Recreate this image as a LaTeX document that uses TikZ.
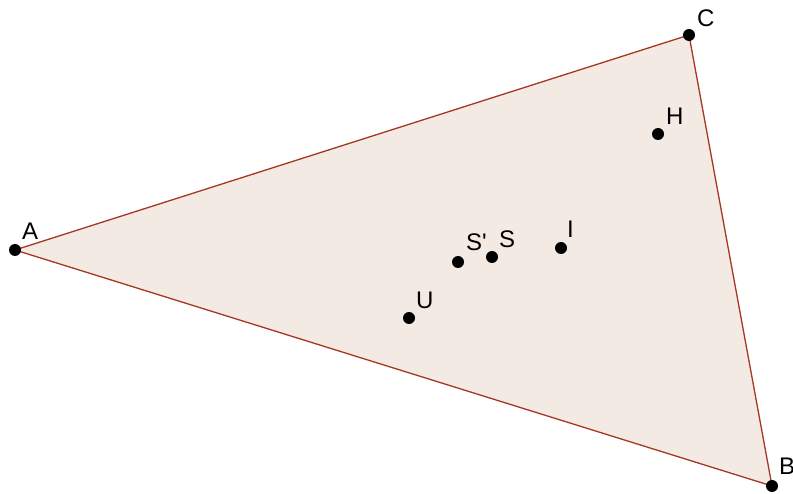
\documentclass[tikz,border=0pt]{standalone}
\usepackage{fontspec}
\setmainfont{Liberation Sans}
\definecolor{trifill}{RGB}{243,234,228}
\definecolor{triline}{RGB}{165,55,35}
\tikzset{
  pt/.style={circle, fill=black, inner sep=0pt, minimum size=12pt},
  lbl/.style={anchor=base west, inner sep=0pt, font=\fontsize{24}{24}\selectfont}
}
\begin{document}
\begin{tikzpicture}[x=1pt,y=-1pt]
                \useasboundingbox (0,0) rectangle (793,494);

                % Triangle
                \coordinate (A) at (15,250);
                \coordinate (B) at (772,486);
                \coordinate (C) at (689,35);
                \filldraw[fill=trifill, draw=triline, line width=1.3pt] (A) -- (B) -- (C) -- cycle;

                % Points
                \node[pt] (pA) at (A) {};
                \node[pt] (pB) at (B) {};
                \node[pt] (pC) at (C) {};
                \node[pt] (pH) at (658,134) {};
                \node[pt] (pI) at (561,248) {};
                \node[pt] (pS) at (492,257) {};
                \node[pt] (pSp) at (458,262) {};
                \node[pt] (pU) at (409,318) {};

                % Labels
                \node[lbl] (lA) at (22,240) {A};
                \node[lbl] (lB) at (779,474) {B};
                \node[lbl] (lC) at (697,27) {C};
                \node[lbl] (lH) at (666,125) {H};
                \node[lbl] (lI) at (567,238) {I};
                \node[lbl] (lS) at (499,248) {S};
                \node[lbl] (lSp) at (466,251) {S\textquotesingle};
                \node[lbl] (lU) at (416,309) {U};
            \end{tikzpicture}
\end{document}
